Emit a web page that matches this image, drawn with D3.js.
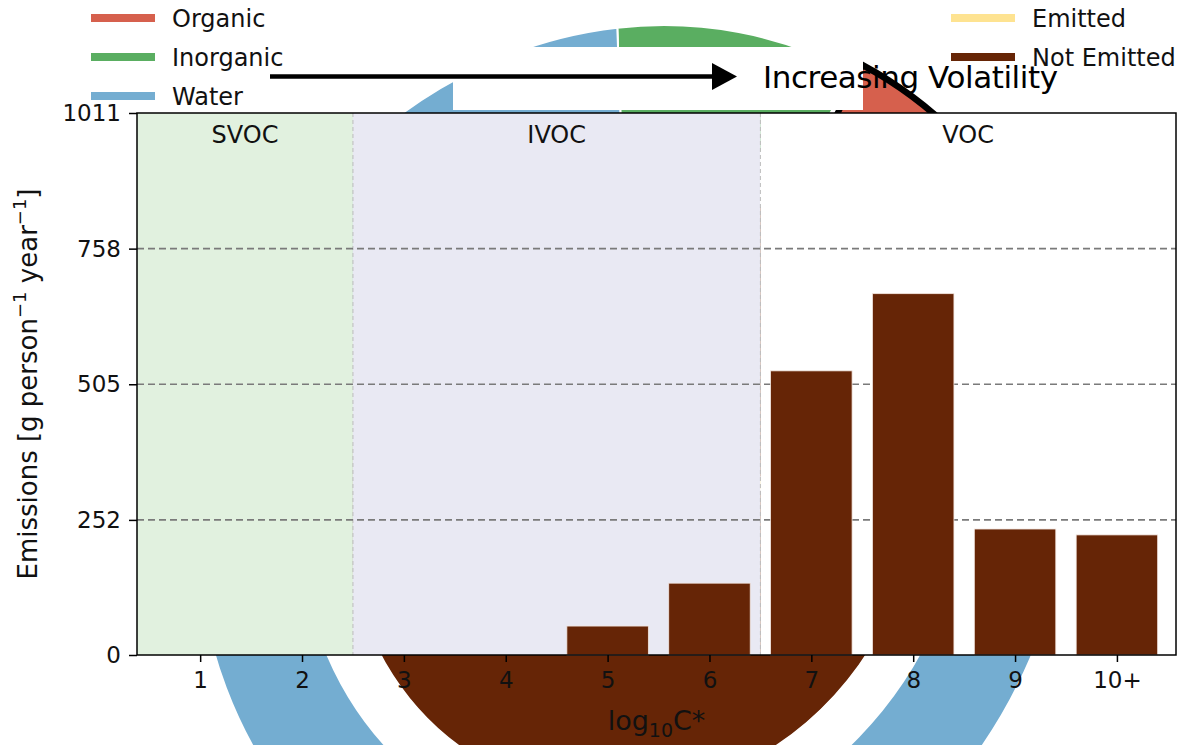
<!DOCTYPE html>
<html>
<head>
<meta charset="utf-8">
<script src="https://cdn.jsdelivr.net/npm/d3@7"></script>
<style>
  body { margin: 0; background: #fff; }
  svg text { font-family: "DejaVu Sans", sans-serif; }
</style>
</head>
<body>
<div id="chart"></div>
<script>
// Datos de la figura
const categorias = ["1", "2", "3", "4", "5", "6", "7", "8", "9", "10+"];
const noEmitido = [0, 0, 0, 0, 54, 134, 530, 674, 235, 224];
const emitido = [0, 0, 0, 0, 0, 0, 0, 0, 0, 0];
const ticksY = [0, 252, 505, 758, 1011];

// Anillo exterior (composición) y pastel interior (emitido / no emitido)
const anilloNombres = ["Organic", "Inorganic", "Water"];
const anilloValores = [17.8, 8.9, 73.3];
const anilloColores = ["#d6604d", "#5aae61", "#74add1"];
const pastelNombres = ["Emitted", "Not Emitted"];
const pastelValores = [1.5, 98.5];
const pastelColores = ["#fee391", "#662506"];

// Regiones de volatilidad
const regiones = [
  { nombre: "SVOC", desde: 0.38, hasta: 2.5, color: "#e1f1df" },
  { nombre: "IVOC", desde: 2.5, hasta: 6.5, color: "#e9e9f3" },
  { nombre: "VOC", desde: 6.5, hasta: 10.58, color: "#ffffff" }
];

const width = 1178;
const height = 745;
const margen = { top: 113, right: 2, bottom: 90, left: 137 };

const svg = d3.select("#chart")
  .append("svg")
  .attr("width", width)
  .attr("height", height);

// ---- Donut de fondo (queda tapado por los ejes) ----
const donut = svg.append("g")
  .attr("transform", "translate(634,490) skewX(-3.7) scale(1,1.064)");

// matplotlib: empieza a las 3 en punto y gira en sentido antihorario
const pie = d3.pie().sort(null)
  .startAngle(Math.PI / 2)
  .endAngle(Math.PI / 2 - 2 * Math.PI);

const arcoAnillo = d3.arc().innerRadius(334).outerRadius(437);
const arcoPastel = d3.arc().innerRadius(0).outerRadius(288);
const explosion = 12;

donut.selectAll("path.pastel")
  .data(pie(pastelValores))
  .join("path")
  .attr("class", "pastel")
  .attr("d", arcoPastel)
  .attr("fill", (d, i) => pastelColores[i])
  .attr("stroke", "#fff")
  .attr("stroke-width", 1.5);

donut.selectAll("path.anillo")
  .data(pie(anilloValores))
  .join("path")
  .attr("class", "anillo")
  .attr("d", arcoAnillo)
  .attr("fill", (d, i) => anilloColores[i])
  .attr("stroke", (d, i) => i === 0 ? "#000" : "#fff")
  .attr("stroke-width", (d, i) => i === 0 ? 6 : 2)
  .attr("transform", (d, i) => {
    if (i !== 0) return null;
    const a = (d.startAngle + d.endAngle) / 2;
    return `translate(${Math.sin(a) * explosion},${-Math.cos(a) * explosion})`;
  });

// Rectángulos blancos que tapan parte del donut
svg.append("rect")
  .attr("x", 453).attr("y", 47)
  .attr("width", 410).attr("height", 63)
  .attr("fill", "#fff");
svg.append("rect")
  .attr("x", 380).attr("y", 47)
  .attr("width", 100).attr("height", 28)
  .attr("fill", "#fff");

// ---- Gráfico de barras ----
const x = d3.scaleLinear()
  .domain([0.38, 10.58])
  .range([margen.left, width - margen.right]);

const y = d3.scaleLinear()
  .domain([0, 1011])
  .range([height - margen.bottom, margen.top]);

const ejes = svg.append("g");

ejes.selectAll("rect.region")
  .data(regiones)
  .join("rect")
  .attr("class", "region")
  .attr("x", d => x(d.desde))
  .attr("y", y(1011))
  .attr("width", d => x(d.hasta) - x(d.desde))
  .attr("height", y(0) - y(1011))
  .attr("fill", d => d.color);

// líneas divisorias de las regiones
ejes.selectAll("line.divisor")
  .data([2.5, 6.5])
  .join("line")
  .attr("class", "divisor")
  .attr("x1", d => x(d)).attr("x2", d => x(d))
  .attr("y1", y(1011)).attr("y2", y(0))
  .attr("stroke", "#bcbcbc")
  .attr("stroke-width", 1)
  .attr("stroke-dasharray", "4,3");

// grilla horizontal
ejes.selectAll("line.grilla")
  .data(ticksY.slice(1, 4))
  .join("line")
  .attr("class", "grilla")
  .attr("x1", x.range()[0]).attr("x2", x.range()[1])
  .attr("y1", d => y(d)).attr("y2", d => y(d))
  .attr("stroke", "#7a7a7a")
  .attr("stroke-width", 1.6)
  .attr("stroke-dasharray", "7,4");

ejes.selectAll("text.region")
  .data(regiones)
  .join("text")
  .attr("class", "region")
  .attr("x", d => x((d.desde + d.hasta) / 2))
  .attr("y", y(1011) + 30)
  .attr("text-anchor", "middle")
  .attr("font-size", 24)
  .attr("fill", "#111")
  .text(d => d.nombre);

// barras apiladas: no emitido abajo, emitido encima
const anchoBarra = x(0.8) - x(0);
const pilas = categorias.map((c, i) => ({ pos: i + 1, noEmitido: noEmitido[i], emitido: emitido[i] }));

ejes.selectAll("rect.noemitido")
  .data(pilas.filter(d => d.noEmitido > 0))
  .join("rect")
  .attr("class", "noemitido")
  .attr("x", d => x(d.pos) - anchoBarra / 2)
  .attr("y", d => y(d.noEmitido))
  .attr("width", anchoBarra)
  .attr("height", d => y(0) - y(d.noEmitido))
  .attr("fill", pastelColores[1])
  .attr("stroke", "#f3e6e0")
  .attr("stroke-width", 0.8);

ejes.selectAll("rect.emitido")
  .data(pilas.filter(d => d.emitido > 0))
  .join("rect")
  .attr("class", "emitido")
  .attr("x", d => x(d.pos) - anchoBarra / 2)
  .attr("y", d => y(d.noEmitido + d.emitido))
  .attr("width", anchoBarra)
  .attr("height", d => y(d.noEmitido) - y(d.noEmitido + d.emitido))
  .attr("fill", pastelColores[0]);

// marco
ejes.append("rect")
  .attr("x", x.range()[0]).attr("y", y(1011))
  .attr("width", x.range()[1] - x.range()[0])
  .attr("height", y(0) - y(1011))
  .attr("fill", "none")
  .attr("stroke", "#000")
  .attr("stroke-width", 1.5);

const ejeY = ejes.append("g")
  .attr("transform", `translate(${margen.left},0)`)
  .call(d3.axisLeft(y).tickValues(ticksY).tickFormat(d3.format("d")).tickSize(8).tickPadding(8));

const ejeX = ejes.append("g")
  .attr("transform", `translate(0,${y(0)})`)
  .call(d3.axisBottom(x)
    .tickValues(d3.range(1, categorias.length + 1))
    .tickFormat(d => categorias[d - 1])
    .tickSize(7).tickPadding(10));

[ejeY, ejeX].forEach(g => {
  g.select(".domain").remove();
  g.selectAll(".tick line").attr("stroke", "#000").attr("stroke-width", 1.5);
  g.selectAll(".tick text")
    .attr("font-size", 23)
    .attr("fill", "#111")
    .attr("font-family", "DejaVu Sans, sans-serif");
});

// título de los ejes
const etiquetaY = svg.append("text")
  .attr("transform", `translate(37,${(y(0) + y(1011)) / 2}) rotate(-90)`)
  .attr("text-anchor", "middle")
  .attr("font-size", 26)
  .attr("fill", "#111");
etiquetaY.append("tspan").text("Emissions [g person");
etiquetaY.append("tspan").attr("dy", -11).attr("font-size", 18).text("−1");
etiquetaY.append("tspan").attr("dy", 11).text(" year");
etiquetaY.append("tspan").attr("dy", -11).attr("font-size", 18).text("−1");
etiquetaY.append("tspan").attr("dy", 11).text("]");

const etiquetaX = svg.append("text")
  .attr("x", (x.range()[0] + x.range()[1]) / 2)
  .attr("y", 730)
  .attr("text-anchor", "middle")
  .attr("font-size", 27)
  .attr("fill", "#111");
etiquetaX.append("tspan").text("log");
etiquetaX.append("tspan").attr("dy", 7).attr("font-size", 19).text("10");
etiquetaX.append("tspan").attr("dy", -7).text("C*");

// ---- Leyendas ----
const leyenda = (items, colores, x0) => {
  const g = svg.append("g");
  items.forEach((nombre, i) => {
    const yy = 18 + i * 39;
    g.append("line")
      .attr("x1", x0).attr("x2", x0 + 64)
      .attr("y1", yy).attr("y2", yy)
      .attr("stroke", colores[i])
      .attr("stroke-width", 8);
    g.append("text")
      .attr("x", x0 + 81).attr("y", yy + 9)
      .attr("font-size", 24)
      .attr("fill", "#111")
      .text(nombre);
  });
};
leyenda(anilloNombres, anilloColores, 91);
leyenda(pastelNombres, pastelColores, 951);

// ---- Flecha "Increasing Volatility" ----
svg.append("line")
  .attr("x1", 270).attr("x2", 714)
  .attr("y1", 76.5).attr("y2", 76.5)
  .attr("stroke", "#000")
  .attr("stroke-width", 4.5);
svg.append("path")
  .attr("d", d3.line()([[712, 63], [737, 76.5], [712, 90]]))
  .attr("fill", "#000");
svg.append("text")
  .attr("x", 763).attr("y", 88)
  .attr("font-size", 31)
  .attr("font-family", "Lato, sans-serif")
  .attr("textLength", 295)
  .attr("fill", "#000")
  .text("Increasing Volatility");
</script>
</body>
</html>
